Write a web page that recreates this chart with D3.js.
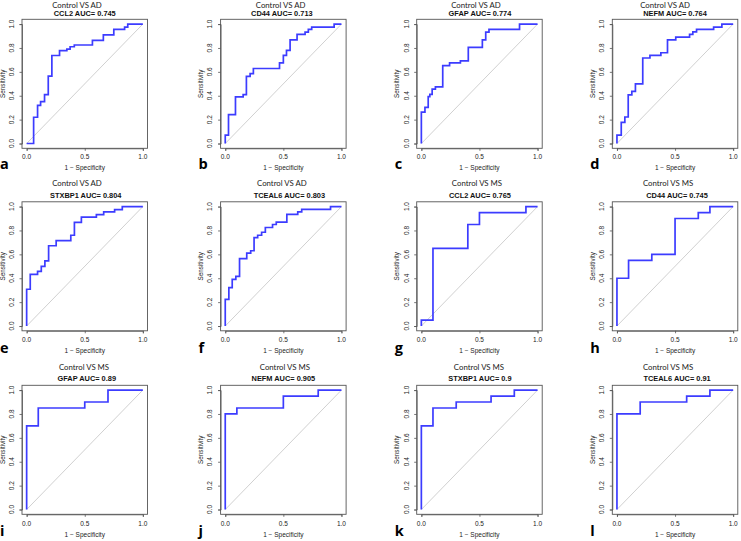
<!DOCTYPE html>
<html>
<head>
<meta charset="utf-8">
<script src="https://cdn.jsdelivr.net/npm/d3@7"></script>
<style>
  html, body { margin: 0; padding: 0; background: #fff; }
  svg { display: block; }
</style>
</head>
<body>
<svg id="chart" width="741" height="541"></svg>
<script>
// ---------- DATA ----------
const panelLetters = ["a","b","c","d","e","f","g","h","i","j","k","l"];
const comparisons = ["Control VS AD","Control VS AD","Control VS AD","Control VS AD",
                     "Control VS AD","Control VS AD","Control VS MS","Control VS MS",
                     "Control VS MS","Control VS MS","Control VS MS","Control VS MS"];
const genes = ["CCL2","CD44","GFAP","NEFM","STXBP1","TCEAL6",
               "CCL2","CD44","GFAP","NEFM","STXBP1","TCEAL6"];
const aucs = ["0.745","0.713","0.774","0.764","0.804","0.803",
              "0.765","0.745","0.89","0.905","0.9","0.91"];
const xTicks = [0, 0.5, 1];
const xTickLabels = ["0.0","0.5","1.0"];
const yTicks = [0, 0.2, 0.4, 0.6, 0.8, 1];
const yTickLabels = ["0.0","0.2","0.4","0.6","0.8","1.0"];

// ROC curves: [1 - specificity, sensitivity] corner points
const rocCCL2_AD = [[0,0],[0.06,0.22],[0.094,0.32],[0.12,0.35],[0.154,0.41],[0.186,0.565],[0.217,0.737],[0.283,0.777],[0.346,0.79],[0.374,0.81],[0.41,0.825],[0.566,0.864],[0.66,0.91],[0.75,0.955],[0.843,0.975],[0.87,1],[1,1]];
const rocCD44_AD = [[0,0],[0,0.07],[0.028,0.242],[0.088,0.39],[0.154,0.41],[0.182,0.563],[0.214,0.586],[0.242,0.628],[0.467,0.676],[0.5,0.738],[0.527,0.78],[0.558,0.868],[0.618,0.913],[0.687,0.932],[0.715,0.955],[0.744,0.975],[0.937,1],[1,1]];
const rocGFAP_AD = [[0,0],[0,0.263],[0.031,0.302],[0.059,0.393],[0.073,0.412],[0.093,0.455],[0.121,0.475],[0.184,0.653],[0.243,0.675],[0.336,0.692],[0.404,0.805],[0.525,0.867],[0.554,0.932],[0.582,0.955],[0.845,1],[1,1]];
const rocNEFM_AD = [[0,0],[0,0.07],[0.037,0.177],[0.068,0.222],[0.097,0.408],[0.128,0.437],[0.159,0.5],[0.222,0.716],[0.284,0.738],[0.378,0.76],[0.435,0.868],[0.506,0.89],[0.625,0.913],[0.653,0.935],[0.685,0.955],[0.832,0.975],[0.903,1],[1,1]];
const rocSTXBP1_AD = [[0,0],[0,0.308],[0.031,0.432],[0.094,0.458],[0.126,0.5],[0.157,0.545],[0.189,0.672],[0.254,0.715],[0.38,0.76],[0.411,0.867],[0.471,0.912],[0.6,0.932],[0.663,0.955],[0.757,0.975],[0.823,1],[1,1]];
const rocTCEAL6_AD = [[0,0],[0,0.223],[0.031,0.322],[0.06,0.39],[0.091,0.415],[0.123,0.565],[0.185,0.61],[0.219,0.63],[0.248,0.74],[0.279,0.76],[0.313,0.785],[0.345,0.825],[0.407,0.85],[0.439,0.87],[0.53,0.935],[0.624,0.955],[0.658,0.977],[0.906,1],[1,1]];
const rocCCL2_MS = [[0,0],[0,0.05],[0.1,0.65],[0.4,0.85],[0.5,0.95],[0.9,1],[1,1]];
const rocCD44_MS = [[0,0],[0,0.4],[0.1,0.55],[0.3,0.6],[0.5,0.9],[0.7,0.95],[0.8,1],[1,1]];
const rocGFAP_MS = [[0,0],[0,0.7],[0.1,0.85],[0.5,0.9],[0.7,1],[1,1]];
const rocNEFM_MS = [[0,0],[0,0.8],[0.1,0.85],[0.5,0.95],[0.8,1],[1,1]];
const rocSTXBP1_MS = [[0,0],[0,0.7],[0.1,0.85],[0.3,0.9],[0.6,0.95],[0.8,1],[1,1]];
const rocTCEAL6_MS = [[0,0],[0,0.8],[0.2,0.9],[0.6,0.95],[0.8,1],[1,1]];
const curves = [rocCCL2_AD, rocCD44_AD, rocGFAP_AD, rocNEFM_AD, rocSTXBP1_AD, rocTCEAL6_AD,
                rocCCL2_MS, rocCD44_MS, rocGFAP_MS, rocNEFM_MS, rocSTXBP1_MS, rocTCEAL6_MS];

// ---------- LAYOUT ----------
const colLeft = [22, 220.6, 416.7, 612.3];
const rowTop = [19.3, 201.8, 385.3];
const boxW = 125.5, boxH = 129;
const ctrlTitleBase = [7.9, 185.7, 370];
const aucTitleBase = [16.4, 197.6, 381.2];
const ctrlTitleDx = [-7.75,-2.75,-3.5,-10, -7.75,-1.5,-2.5,-7, -0.75,1.5,-0.5,-7];
const aucTitleDx = [0,-1.5,0.5,0, 1,6,0.5,2, 2,0,0.5,2];
const tickLabelDy = [139.2, 140.3, 140.3];

const svg = d3.select("#chart");
svg.append("rect").attr("width", 741).attr("height", 541).attr("fill", "#fff");

const rFont = "'Liberation Sans', Arial, Helvetica, sans-serif";
const sFont = "Lato, 'Open Sans', 'Liberation Sans', sans-serif";
const lFont = "'Open Sans', 'Liberation Sans', sans-serif";

curves.forEach((curve, i) => {
  const col = i % 4, row = Math.floor(i / 4);
  const L = colLeft[col], T = rowTop[row];
  const padX = boxW * 0.04 / 1.08, padY = boxH * 0.04 / 1.08;
  const x = d3.scaleLinear().domain([0, 1]).range([L + padX, L + boxW - padX]);
  const y = d3.scaleLinear().domain([0, 1]).range([T + boxH - padY, T + padY]);
  const g = svg.append("g");
  const cx = L + boxW / 2;

  // diagonal reference
  g.append("line")
    .attr("x1", x(0)).attr("y1", y(0)).attr("x2", x(1)).attr("y2", y(1))
    .attr("stroke", "#c4c4c4").attr("stroke-width", 0.8);

  // ROC curve
  const line = d3.line().x(d => x(d[0])).y(d => y(d[1])).curve(d3.curveStepAfter);
  g.append("path").datum(curve).attr("d", line)
    .attr("fill", "none").attr("stroke", "#3c3cff").attr("stroke-width", 1.7);

  // box
  g.append("rect").attr("x", L).attr("y", T).attr("width", boxW).attr("height", boxH)
    .attr("fill", "none").attr("stroke", "#555").attr("stroke-width", 0.9);

  // x axis
  const xa = d3.axisBottom(x).tickValues(xTicks).tickFormat((d, k) => xTickLabels[k])
    .tickSize(2.5).tickPadding(2);
  const gx = g.append("g").attr("transform", `translate(0,${T + boxH})`).call(xa);
  gx.select(".domain").attr("stroke", "#555").attr("stroke-width", 0.8);
  gx.selectAll(".tick line").attr("stroke", "#555").attr("stroke-width", 0.8);
  gx.selectAll("text").remove();
  xTicks.forEach((v, k) => {
    g.append("text").attr("x", x(v)).attr("y", T + tickLabelDy[row])
      .attr("text-anchor", "middle").attr("font-family", rFont).attr("font-size", 6.5)
      .attr("fill", "#222").text(xTickLabels[k]);
  });

  // y axis
  const ya = d3.axisLeft(y).tickValues(yTicks).tickSize(2.5);
  const gy = g.append("g").attr("transform", `translate(${L},0)`).call(ya);
  gy.select(".domain").attr("stroke", "#555").attr("stroke-width", 0.8);
  gy.selectAll(".tick line").attr("stroke", "#555").attr("stroke-width", 0.8);
  gy.selectAll("text").remove();
  yTicks.forEach((v, k) => {
    g.append("text").attr("transform", `translate(${L - 8.2},${y(v)}) rotate(-90)`)
      .attr("text-anchor", "middle").attr("font-family", rFont).attr("font-size", 6.5)
      .attr("fill", "#222").text(yTickLabels[k]);
  });

  // axis titles
  g.append("text").attr("x", cx).attr("y", T + tickLabelDy[row] + 11)
    .attr("text-anchor", "middle").attr("font-family", rFont).attr("font-size", 6.5)
    .attr("fill", "#222").text("1 \u2212 Specificity");
  g.append("text").attr("transform", `translate(${L - 17.3},${T + boxH / 2}) rotate(-90)`)
    .attr("text-anchor", "middle").attr("font-family", rFont).attr("font-size", 6.3)
    .attr("fill", "#222").text("Sensitivity");

  // titles
  g.append("text").attr("x", cx + aucTitleDx[i]).attr("y", aucTitleBase[row])
    .attr("text-anchor", "middle").attr("font-family", rFont).attr("font-size", 7.4)
    .attr("font-weight", "bold").attr("fill", "#111")
    .text(`${genes[i]} AUC= ${aucs[i]}`);
  g.append("text").attr("x", cx + ctrlTitleDx[i]).attr("y", ctrlTitleBase[row])
    .attr("text-anchor", "middle").attr("font-family", sFont).attr("font-size", 7.8)
    .attr("fill", "#222").text(comparisons[i]);

  // panel letter
  g.append("text").attr("x", L - 22).attr("y", T + tickLabelDy[row] + 10.5)
    .attr("font-family", lFont).attr("font-size", 14.5).attr("font-weight", "bold")
    .attr("fill", "#000").text(panelLetters[i]);
});
</script>
</body>
</html>
